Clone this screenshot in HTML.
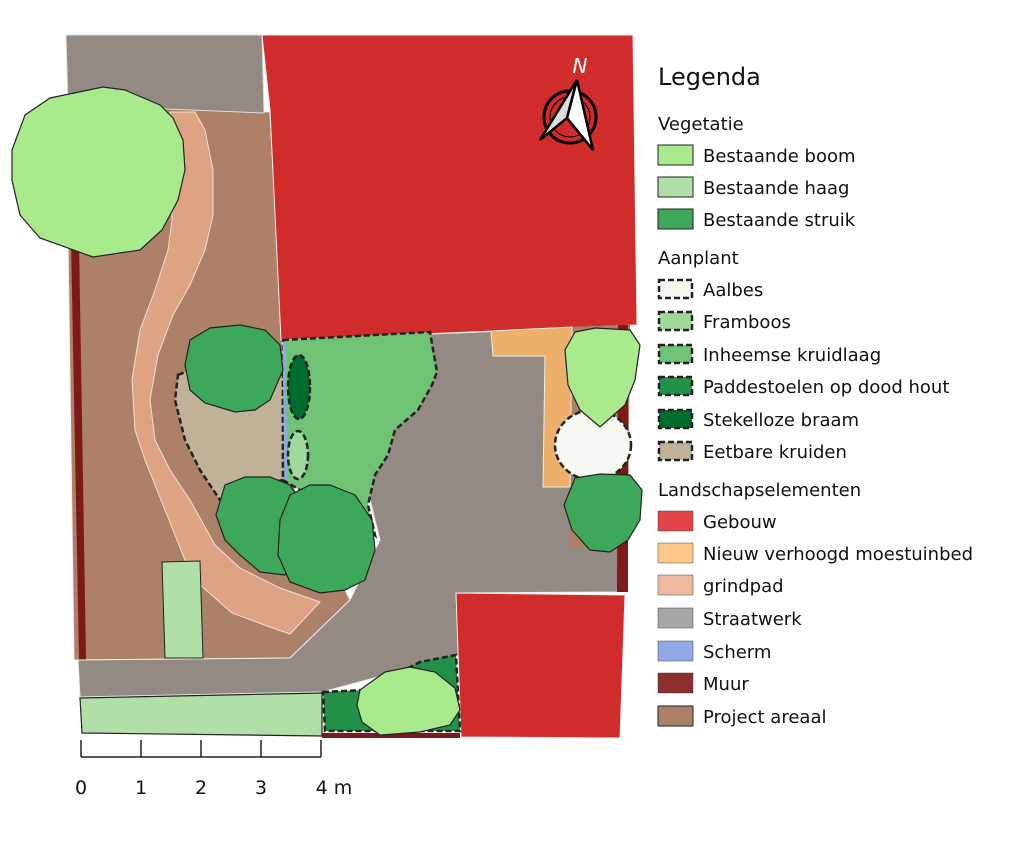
<!DOCTYPE html>
<html><head><meta charset="utf-8"><style>
body{margin:0;background:#fff;}
svg{display:block;font-family:"DejaVu Sans","Liberation Sans",sans-serif;}
</style></head><body>
<svg width="1023" height="842" viewBox="0 0 1023 842" xmlns="http://www.w3.org/2000/svg">
<rect width="1023" height="842" fill="#fff"/>
<!-- project area -->
<polygon points="66,100 170,108 270,112 282,340 290,480 350,600 290,658 78,660 74,660" fill="#ad8068" stroke="#eee" stroke-width="1"/>
<polygon points="66,35 262,35 264,113 68,105" fill="#948a84" stroke="#ddd" stroke-width="1"/>
<polygon points="71,240 79,240 86,660 79,660" fill="#7d1a18"/>
<!-- red building top -->
<polygon points="262,35 633,35 637,325 281,340 270,110" fill="#cf2c2b" stroke="#eee" stroke-width="1"/>
<!-- gray paving -->
<polygon points="283,340 630,326 618,592 456,593 460,655 322,692 80,697 78,660 290,658 350,600 380,540 370,500 290,480" fill="#948a84" stroke="#eee" stroke-width="1"/>
<!-- right strip brown -->
<polygon points="568,327 630,325 628,548 570,548" fill="#ad8068"/>
<polygon points="618,325 628,325 628,592 617,592" fill="#7d1a18"/>
<!-- orange bed -->
<polygon points="491,331 572,327 570,487 543,487 545,356 493,356" fill="#edb06b" stroke="#eee" stroke-width="1"/>
<!-- path -->
<polygon points="170,112 195,112 205,130 213,170 213,215 205,250 190,285 173,315 158,355 150,400 155,440 170,470 190,500 215,545 240,568 280,588 320,602 290,634 270,627 232,613 198,583 185,560 165,510 145,460 135,430 132,380 140,330 155,290 168,250 172,220" fill="#dea384" stroke="#f3e0d0" stroke-width="1"/>
<!-- small hedge -->
<polygon points="162,562 200,561 203,658 165,658" fill="#b0e0a8" stroke="#222" stroke-width="1"/>
<!-- kruiden -->
<polygon points="178,375 190,370 283,370 283,480 240,490 220,500 200,470 185,440 175,400" fill="#bfb298" stroke="#222" stroke-width="2.5" stroke-dasharray="6,3"/>
<!-- kruidlaag -->
<polygon points="283,340 430,332 437,372 432,385 418,410 395,430 388,455 375,475 368,505 375,535 340,500 300,490 283,480" fill="#70c275" stroke="#222" stroke-width="2.5" stroke-dasharray="6,3"/>
<line x1="284" y1="342" x2="286" y2="480" stroke="#8fa8e8" stroke-width="3"/>
<ellipse cx="299" cy="387" rx="11" ry="32" fill="#006d2c" stroke="#222" stroke-width="2.5" stroke-dasharray="6,3"/>
<ellipse cx="298" cy="455" rx="10" ry="24" fill="#a0d99b" stroke="#222" stroke-width="2.5" stroke-dasharray="6,3"/>
<!-- shrubs -->
<path d="M190,340 L210,328 L240,325 L265,330 L280,345 L283,370 L270,400 L255,410 L235,412 L205,403 L190,390 L185,365 Z" fill="#3ea85a" stroke="#222" stroke-width="1.2"/>
<path d="M225,485 L245,477 L270,477 L290,485 L300,500 L295,540 L285,575 L260,572 L240,555 L225,540 L216,515 Z" fill="#3ea85a" stroke="#222" stroke-width="1.2"/>
<path d="M290,495 L310,485 L330,485 L355,495 L372,520 L375,550 L365,580 L345,590 L320,593 L290,582 L278,555 L280,520 Z" fill="#3ea85a" stroke="#222" stroke-width="1.2"/>
<!-- right tree, aalbes, shrub -->
<ellipse cx="593" cy="445" rx="38" ry="35" fill="#f5f9f2" stroke="#222" stroke-width="2.5" stroke-dasharray="6,3"/>
<path d="M575,332 L595,328 L630,330 L640,345 L635,380 L625,405 L600,427 L580,410 L568,385 L565,350 Z" fill="#a9eb8c" stroke="#222" stroke-width="1.2"/>
<path d="M575,478 L600,474 L630,475 L642,490 L640,520 L628,540 L610,552 L590,550 L572,530 L564,505 Z" fill="#3ea85a" stroke="#222" stroke-width="1.2"/>
<!-- bottom -->
<polygon points="456,593 625,595 620,738 461,737" fill="#cf2c2b" stroke="#eee" stroke-width="1"/>
<polygon points="80,698 322,693 322,736 82,733" fill="#b0e0a8" stroke="#222" stroke-width="1.2"/>
<polygon points="322,733 460,733 460,738 322,738" fill="#7d1a18"/>
<polygon points="323,692 365,690 420,662 456,655 460,731 325,731" fill="#23904a" stroke="#222" stroke-width="2.5" stroke-dasharray="6,3"/>
<path d="M360,690 L385,672 L410,667 L435,672 L455,688 L460,710 L450,725 L420,732 L380,735 L362,722 L357,705 Z" fill="#a9eb8c" stroke="#222" stroke-width="1.2"/>
<!-- big tree -->
<path d="M103,87 L125,90 L160,105 L173,118 L183,140 L185,170 L178,200 L162,230 L140,250 L93,257 L40,238 L20,215 L12,180 L12,150 L25,115 L50,98 Z" fill="#a9eb8c" stroke="#222" stroke-width="1.2"/>
<!-- north arrow -->
<circle cx="570" cy="117" r="26" fill="none" stroke="#000" stroke-width="3"/>
<circle cx="570" cy="117" r="20" fill="none" stroke="#000" stroke-width="1"/>
<polygon points="540,140 577,80 567,118" fill="#ddd" stroke="#000" stroke-width="2.5"/>
<polygon points="577,80 593,150 567,118" fill="#fff" stroke="#000" stroke-width="2.5"/>
<text x="580" y="73" font-size="20" font-style="italic" fill="#fff" text-anchor="middle">N</text>
<!-- scale -->
<g stroke="#222" stroke-width="1.5">
<line x1="81" y1="757" x2="321" y2="757"/>
<line x1="81" y1="740" x2="81" y2="757"/><line x1="141" y1="740" x2="141" y2="757"/><line x1="201" y1="740" x2="201" y2="757"/><line x1="261" y1="740" x2="261" y2="757"/><line x1="321" y1="740" x2="321" y2="757"/>
</g>
<g font-size="19" fill="#111" text-anchor="middle">
<text x="81" y="794">0</text><text x="141" y="794">1</text><text x="201" y="794">2</text><text x="261" y="794">3</text><text x="334" y="794">4 m</text>
</g>
<!-- legend -->
<g fill="#111">
<text x="658" y="85" font-size="24">Legenda</text>
<text x="658" y="130" font-size="18">Vegetatie</text>
<text x="658" y="264" font-size="18">Aanplant</text>
<text x="658" y="496" font-size="18">Landschapselementen</text>
</g>
<g stroke="#222" stroke-width="1">
<rect x="658" y="145" width="35" height="20" fill="#a9eb8c"/>
<rect x="658" y="177" width="35" height="20" fill="#b0e0a8"/>
<rect x="658" y="209" width="35" height="20" fill="#3ea85a"/>
</g>
<g stroke="#222" stroke-width="2.5" stroke-dasharray="6,3">
<rect x="659" y="280" width="33" height="18" fill="#f5f9f2"/>
<rect x="659" y="312" width="33" height="18" fill="#a0d99b"/>
<rect x="659" y="345" width="33" height="18" fill="#70c275"/>
<rect x="659" y="377" width="33" height="18" fill="#23904a"/>
<rect x="659" y="410" width="33" height="18" fill="#006d2c"/>
<rect x="659" y="442" width="33" height="18" fill="#bfb298"/>
</g>
<g stroke="#444" stroke-width="0.5">
<rect x="658" y="511" width="35" height="20" fill="#e04448"/>
<rect x="658" y="543" width="35" height="20" fill="#fdc98a"/>
<rect x="658" y="575" width="35" height="20" fill="#efb9a0"/>
<rect x="658" y="608" width="35" height="20" fill="#a7a7a7"/>
<rect x="658" y="641" width="35" height="20" fill="#91a9e6"/>
<rect x="658" y="673" width="35" height="20" fill="#8b2f2c"/>
<rect x="658" y="706" width="35" height="20" fill="#ad8068" stroke="#222" stroke-width="1"/>
</g>
<g font-size="18" fill="#111">
<text x="703" y="162">Bestaande boom</text>
<text x="703" y="194">Bestaande haag</text>
<text x="703" y="226">Bestaande struik</text>
<text x="703" y="296">Aalbes</text>
<text x="703" y="328">Framboos</text>
<text x="703" y="361">Inheemse kruidlaag</text>
<text x="703" y="393">Paddestoelen op dood hout</text>
<text x="703" y="426">Stekelloze braam</text>
<text x="703" y="458">Eetbare kruiden</text>
<text x="703" y="528">Gebouw</text>
<text x="703" y="560">Nieuw verhoogd moestuinbed</text>
<text x="703" y="592">grindpad</text>
<text x="703" y="625">Straatwerk</text>
<text x="703" y="658">Scherm</text>
<text x="703" y="690">Muur</text>
<text x="703" y="723">Project areaal</text>
</g>
</svg>
</body></html>
